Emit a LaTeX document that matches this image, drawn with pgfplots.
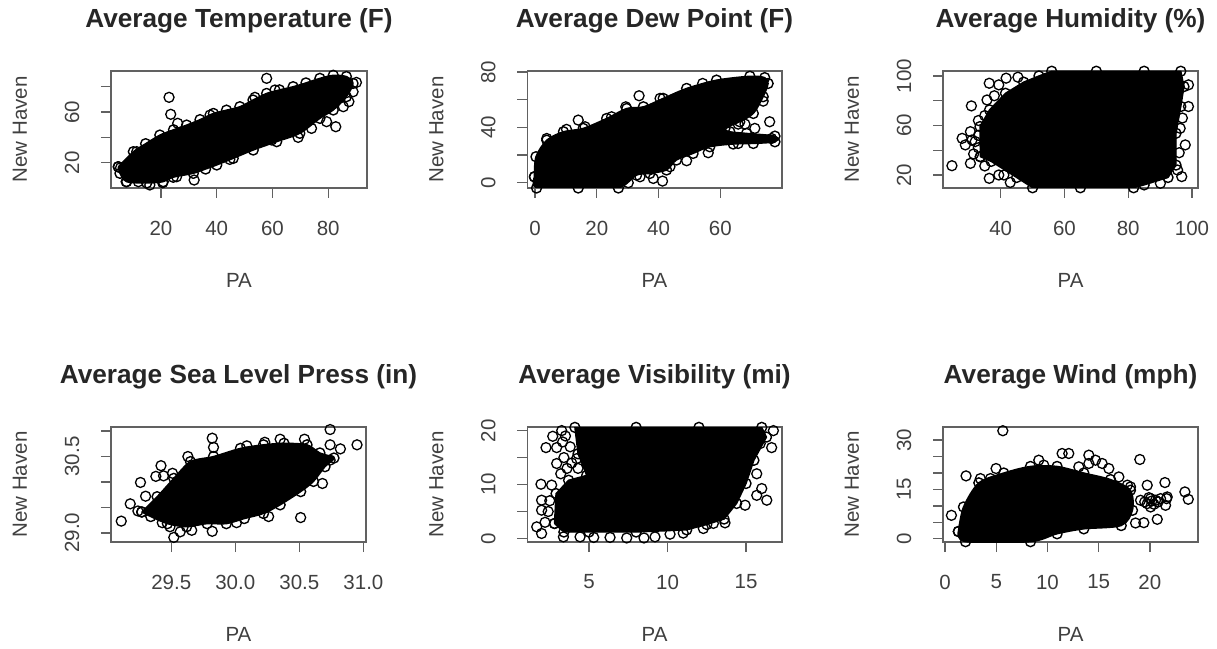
\documentclass[border=0pt]{standalone}
\usepackage{fontspec}
\setmainfont{Liberation Sans}
\usepackage{pgfplots}
\pgfplotsset{compat=1.18}
\definecolor{boxc}{gray}{0.38}
\definecolor{txtc}{gray}{0.25}
\pgfplotsset{rp/.style={
  scale only axis, anchor=south west, axis line style={boxc,line width=1.6pt},
  tick align=outside, xtick pos=bottom, ytick pos=left,
  major tick length=10pt, tick style={boxc,line width=1.4pt},
  tick label style={font=\fontsize{20.5}{24}\selectfont, text=txtc, inner sep=0pt, outer sep=0pt},
  xticklabel style={anchor=center, yshift=-30pt},
  yticklabel style={xshift=-29pt, rotate=90, anchor=center},
  title style={font=\bfseries\fontsize{26.2}{30}\selectfont, text=black!85, at={(0.5,1)}, anchor=center, yshift=44pt, inner sep=0pt},
  xlabel style={font=\fontsize{20.5}{24}\selectfont, text=txtc, at={(0.5,0)}, anchor=center, yshift=-92pt, inner sep=0pt},
  ylabel style={font=\fontsize{20.5}{24}\selectfont, text=txtc, at={(0,0.5)}, anchor=center, yshift=91pt, inner sep=0pt},
  xlabel={PA}, ylabel={New Haven}
},
blob/.style={black, fill=black, line width=1.4pt, line join=round, smooth, tension=0.5, mark=o, mark size=5pt, mark options={solid, black, line width=1.4pt}},
pts/.style={only marks, mark=o, mark size=5pt, mark options={solid, black, line width=1.3pt}}
}
\begin{document}
\begin{tikzpicture}[x=1pt,y=1pt]
\path[use as bounding box] (0,0) rectangle (1217,648);

% Average Temperature
\begin{axis}[rp, at={(111pt,460pt)}, width=256pt, height=117pt,
  xmin=2.08, xmax=93.9, ymin=0.03, ymax=92.4,
  xtick={20,40,60,80}, xticklabels={20,40,60,80},
  ytick={20,40,60,80}, yticklabels={20,,60,},
  title={Average Temperature (F)}]
\addplot[blob] table {
4.7 16.8
10.1 28.7
14.5 35
19.6 41.8
24.5 46
29.2 49.7
34 54
38.8 58.9
43.5 61.5
48.3 64.2
53 69.5
57.9 74.7
62.5 77.5
67.4 80
72 83
77 86.6
81.8 89
86.5 88
88.9 82.6
86.5 72.1
81.8 61.6
77 55
69.8 43.2
61.5 36.6
53.1 30
45.9 23.4
40 18.2
36 15
31.6 11.6
24.4 8.5
20.8 5
14.9 4
7.7 5
5.3 11.6
4.7 16.8
};
\addplot[pts] table {
22.9 71.6
23.5 58.2
26 51.1
57.9 86.6
60.9 77.4
53.7 71.6
90.1 83.4
87.4 68.2
82.7 48.4
69.2 40
74 47.1
79.4 52.4
31.9 6.3
20.6 4.2
11.9 5
7.5 5
11.3 28.7
5.5 16
44.7 22.6
37.6 57.6
88.9 76
85.4 64.2
59.7 37.9
25.6 8.9
16 2.4
};
\end{axis}

% Average Dew Point
\begin{axis}[rp, at={(527.3pt,460pt)}, width=254.4pt, height=117pt,
  xmin=-2.5, xmax=79.9, ymin=-3.8, ymax=80.8,
  xtick={0,20,40,60}, xticklabels={0,20,40,60},
  ytick={0,20,40,60,80}, yticklabels={0,,40,,80},
  title={Average Dew Point (F)}]
\addplot[blob] table {
-0.2 4.3
0.3 18.8
3.8 30.8
9.2 36.9
15.6 39.3
23.2 46.5
29.7 53.7
35.1 54.9
41.5 61
49.1 68.2
58.8 74.2
69.6 77
74.4 76
75.5 71.8
73.9 62.2
70.7 50.1
66.3 44.1
61.5 39.3
63.1 36.9
68.5 35.7
77.7 33.7
77.7 29.6
70.7 28.4
64.2 28
56.6 26
51.2 21.2
45.8 16.4
42.6 9.2
37.2 6.7
32.9 5.5
27 -3.8
14 -3.8
0.5 -3.8
-0.2 4.3
};
\addplot[pts] table {
33.7 62.9
14 45.3
29.4 54.9
24.8 47.7
40.5 61
54.3 71.8
76 44.1
73.9 59
71.2 39.3
65.8 42.4
68 42.4
65.8 28.4
56.1 21.7
49.1 15.9
43.7 11.6
41.3 1.2
38.3 3.1
34 4.3
30.2 0
3.8 32
10.2 38.6
16.2 40.5
76.6 32
};
\end{axis}

% Average Humidity
\begin{axis}[rp, at={(943pt,460pt)}, width=255pt, height=117pt,
  xmin=21.9, xmax=101.9, ymin=9.5, ymax=104,
  xtick={40,60,80,100}, xticklabels={40,60,80,100},
  ytick={20,40,60,80,100}, yticklabels={20,,60,,100},
  title={Average Humidity (\%)}]
\addplot[blob, smooth=false, sharp plot] table {
33.6 34.8
33.5 59.1
36.5 72.6
41.5 86
47.2 95
52 100
56 103.8
70 103.8
85 103.8
96.5 103.8
97.5 91.4
96.5 75.3
95 53.7
95 28
92.5 18
85 12
81.7 9.7
65 9.7
50 9.7
45 18
37 31
33.6 34.8
};
\addplot[pts] table {
24.7 27.5
30.5 29.4
36.4 17.3
35 27.3
27.9 49.6
30.8 75.8
36.4 94.1
39.4 92.8
41.7 98.2
45.4 99
30.5 55
28.9 44.3
31 48.3
35.7 80.6
31.5 37
33 42
32 47
33 52
33 64
35 68
38 84
41 20
43 14
98.9 75.3
98.9 92.8
97.9 44.3
96.8 18.7
90.1 13.3
96.3 57.7
97 66
96 38
95.5 24
39.4 20
};
\end{axis}

% Average Sea Level Press
\begin{axis}[rp, at={(111pt,106pt)}, width=255pt, height=115pt,
  xmin=29.03, xmax=31.02, ymin=28.82, ymax=31.08,
  xtick={29.5,30,30.5,31}, xticklabels={29.5,30.0,30.5,31.0},
  ytick={29,29.5,30,30.5,31}, yticklabels={29.0,,,30.5,},
  title={Average Sea Level Press (in)}]
\addplot[blob] table {
29.27 29.41
29.39 29.71
29.52 30.07
29.65 30.4
29.83 30.5
30.04 30.66
30.22 30.73
30.38 30.76
30.56 30.73
30.66 30.57
30.77 30.47
30.7 30.3
30.61 30.01
30.51 29.81
30.35 29.55
30.22 29.38
30.07 29.28
29.93 29.18
29.78 29.18
29.62 29.12
29.47 29.18
29.34 29.32
29.27 29.41
};
\addplot[pts] table {
29.11 29.23
29.18 29.57
29.24 29.43
29.26 29.99
29.3 29.72
29.38 30.11
29.42 30.32
29.44 30.12
29.51 30.17
29.63 30.5
29.82 30.86
29.83 30.68
30.09 30.71
30.23 30.78
30.35 30.84
30.54 30.84
30.74 31.03
30.74 30.73
30.82 30.65
30.95 30.73
30.68 29.97
30.51 29.3
30.26 29.32
30.01 29.2
29.82 29.03
29.66 29.05
29.57 29.02
29.52 28.91
29.43 29.2
29.49 29.12
30.74 30.43
};
\end{axis}

% Average Visibility
\begin{axis}[rp, at={(527.3pt,106pt)}, width=254.4pt, height=115pt,
  xmin=1.07, xmax=17.27, ymin=-0.65, ymax=20.67,
  xtick={5,10,15}, xticklabels={5,10,15},
  ytick={0,5,10,15,20}, yticklabels={0,,10,,20},
  title={Average Visibility (mi)}]
\addplot[blob, smooth=false, sharp plot] table {
2.8 2.78
2.9 8.33
3.7 10.8
4.85 11.7
4.3 15.7
4.1 20.6
8 20.6
12 20.6
16 20.6
16.3 18.8
15.5 14.5
15 10.2
14.4 6.5
13.6 3.6
12.5 2.6
11.22 1.6
8 1.2
5 1.2
3.4 1.2
2.8 2.78
};
\addplot[pts] table {
1.98 0.93
1.67 2.16
1.98 7.1
1.94 10.06
2.62 9.9
2.26 16.85
2.94 16.85
2.69 18.95
3.32 17.9
2.94 13.9
3.26 20
1.98 5.25
3.37 0.3
4.21 14.8
3.6 13
3.9 14
4.3 13
3.4 15
3.8 17
3.5 19
3.2 12
2.2 3
2.4 5
2.5 7
16.63 16.85
16.32 7.1
16 9.26
15.68 8
15.68 12
14.94 6.17
13.66 2.9
12.92 2.8
12.28 1.85
11 1
10.16 0.8
16.74 20
15.9 17.6
4.43 0.3
6.34 0.2
5.3 0.2
7.4 0.1
8.5 0.1
9.2 0.3
};
\end{axis}

% Average Wind
\begin{axis}[rp, at={(943pt,106pt)}, width=255pt, height=115pt,
  xmin=-0.2, xmax=24.7, ymin=-1, ymax=34,
  xtick={0,5,10,15,20}, xticklabels={0,5,10,15,20},
  ytick={0,5,10,15,20,25,30}, yticklabels={0,,,15,,,30},
  title={Average Wind (mph)}]
\addplot[blob] table {
1.3 2.2
1.8 9.66
3.3 17
5.73 20
8.34 22
10.94 22
13.55 20
16.16 18
18.1 14.75
18.3 8.65
17.2 4
13.55 3
10.94 1.5
8.34 -0.9
2 -0.9
1.3 2.2
};
\addplot[pts] table {
5.64 32.86
0.62 7.12
2.05 19.12
4.98 21.36
3.45 18.3
4.43 18.3
9.15 23.9
9.64 22.4
11.43 25.94
12.08 25.94
14.04 25.43
14.69 23.9
15.34 22.9
14.04 22.9
13.06 21.87
15.99 21.36
19.02 24.11
18.11 15.77
19.74 16.28
21.47 17.09
23.42 14.24
23.75 12
21.69 12.72
21.53 10.17
20.07 12.2
19.74 10.68
20.55 11.7
21.04 12.2
20.72 5.9
19.41 4.88
18.6 4.78
19.09 11.7
20.07 9.66
21.63 12.2
16.97 18.8
17.8 16.3
20.2 11.5
19.9 12.5
20.4 10.5
20.8 11.2
19.5 11.2
};
\end{axis}
\end{tikzpicture}
\end{document}
